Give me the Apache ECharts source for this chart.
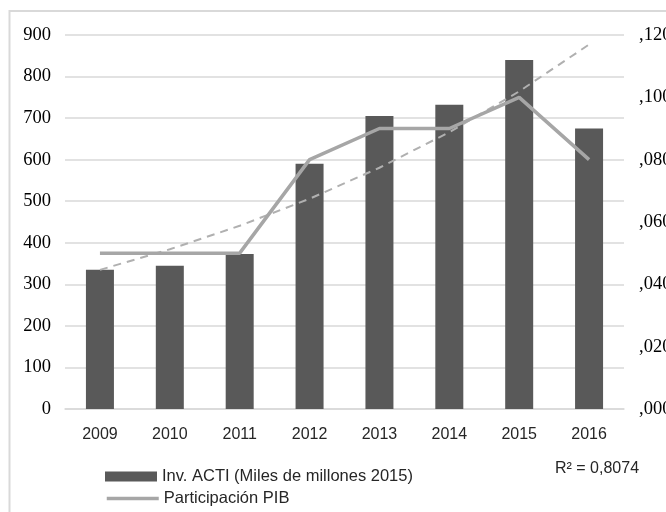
<!DOCTYPE html>
<html>
<head>
<meta charset="utf-8">
<script src="https://cdn.jsdelivr.net/npm/echarts@6/dist/echarts.min.js"></script>
<style>
  html, body { margin: 0; padding: 0; background: #fff; }
  #chart { width: 666px; height: 512px; }
</style>
</head>
<body>
<div id="chart"></div>
<script>
// Years on the horizontal axis
const years = ['2009', '2010', '2011', '2012', '2013', '2014', '2015', '2016'];
// Investment in ACTI (thousands of millions, 2015 prices)
const invActi = [335, 345, 373, 590, 705, 732, 840, 675];
// Share of GDP
const participacionPib = [0.05, 0.05, 0.05, 0.08, 0.09, 0.09, 0.10, 0.08];
// Trendline fit quality as stated on the chart
const r2Label = 'R² = 0,8074';

const barName = 'Inv. ACTI (Miles de millones 2015)';
const lineName = 'Participación PIB';

// Exponential trendline fitted to the investment series (least squares on ln y)
function expTrend(values) {
  const n = values.length;
  const xs = values.map((_, i) => i + 1);
  const ys = values.map(v => Math.log(v));
  const mx = xs.reduce((a, b) => a + b, 0) / n;
  const my = ys.reduce((a, b) => a + b, 0) / n;
  let sxy = 0, sxx = 0;
  for (let i = 0; i < n; i++) {
    sxy += (xs[i] - mx) * (ys[i] - my);
    sxx += (xs[i] - mx) * (xs[i] - mx);
  }
  const b = sxy / sxx;
  const a = my - b * mx;
  return xs.map(x => Math.exp(a + b * x));
}
const trend = expTrend(invActi);

const legendText = { color: '#262626', fontFamily: 'Liberation Sans', fontSize: 16.5 };

const chart = echarts.init(document.getElementById('chart'));
chart.setOption({
  animation: false,
  backgroundColor: '#fff',
  grid: { left: 65, right: 42, top: 35, bottom: 103, containLabel: false, outerBoundsMode: 'none' },
  xAxis: {
    type: 'category',
    data: years,
    axisLine: { lineStyle: { color: '#d9d9d9', width: 1.5 } },
    axisTick: { show: false },
    axisLabel: { color: '#262626', fontFamily: 'Liberation Sans', fontSize: 16, margin: 18 }
  },
  yAxis: [
    {
      type: 'value', min: 0, max: 900, interval: 100,
      axisLine: { show: false }, axisTick: { show: false },
      splitLine: { lineStyle: { color: '#d9d9d9', width: 1.5 } },
      axisLabel: { color: '#000', fontFamily: 'Liberation Serif', fontSize: 18.5, margin: 14 }
    },
    {
      type: 'value', min: 0, max: 0.12, interval: 0.02,
      axisLine: { show: false }, axisTick: { show: false },
      splitLine: { show: false },
      axisLabel: {
        color: '#000', fontFamily: 'Liberation Serif', fontSize: 18.5, margin: 15,
        formatter: v => ',' + v.toFixed(3).slice(2)
      }
    }
  ],
  legend: [
    {
      left: 105, top: 468, padding: 0, itemGap: 5,
      itemWidth: 52, itemHeight: 10,
      textStyle: legendText,
      data: [{ name: barName, icon: 'rect' }]
    },
    {
      left: 105, top: 490, padding: 0, itemGap: 5,
      itemWidth: 52, itemHeight: 10,
      textStyle: legendText,
      data: [{ name: lineName, itemStyle: { opacity: 0 }, lineStyle: { width: 3.5, color: '#a6a6a6' } }]
    }
  ],
  series: [
    {
      name: barName, type: 'bar', data: invActi,
      barWidth: 28, itemStyle: { color: '#595959' }, z: 2
    },
    {
      name: 'Tendencia', type: 'line', data: trend, symbol: 'none',
      lineStyle: { color: '#b0b0b0', width: 2, type: [8, 6] }, z: 3
    },
    {
      name: lineName, type: 'line', yAxisIndex: 1, data: participacionPib,
      symbol: 'none', lineStyle: { color: '#a6a6a6', width: 3.5 }, itemStyle: { color: '#a6a6a6' }, z: 4
    }
  ],
  graphic: [
    {
      type: 'rect', shape: { x: 9.5, y: 11, width: 700, height: 540 },
      style: { fill: 'none', stroke: '#d9d9d9', lineWidth: 2 }, silent: true
    },
    {
      type: 'text', left: 555, top: 461,
      style: { text: r2Label, fill: '#262626', font: '16px "Liberation Sans"' }
    }
  ]
});
</script>
</body>
</html>
